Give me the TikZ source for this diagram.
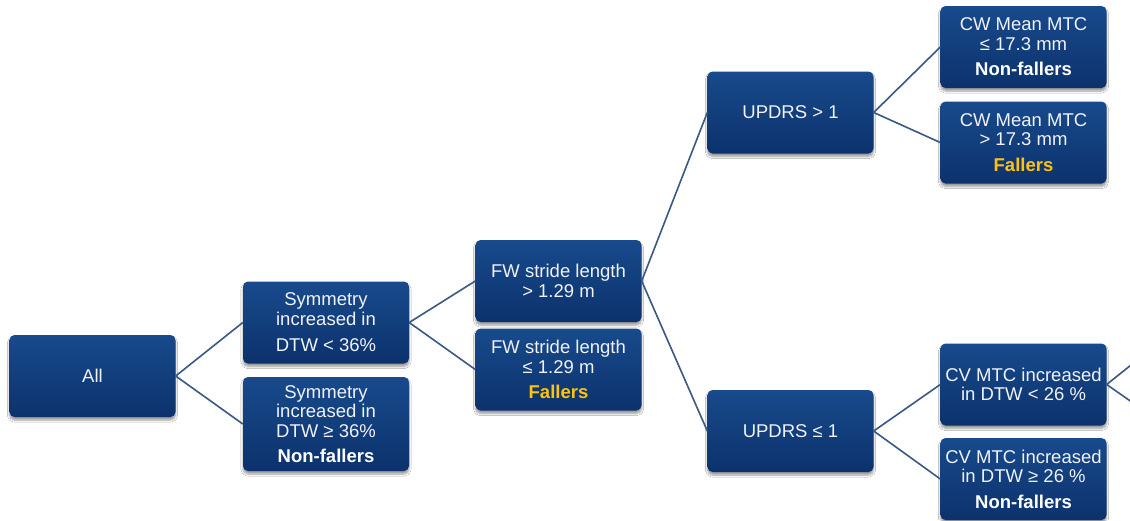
\documentclass[tikz,border=0pt]{standalone}
\usepackage{fontspec}
\setmainfont{Liberation Sans}
\usetikzlibrary{shadows.blur}
\definecolor{boxtop}{RGB}{24,74,140}
\definecolor{boxbot}{RGB}{12,50,108}
\definecolor{linkblue}{RGB}{58,88,132}
\definecolor{fallgold}{RGB}{255,194,14}
\definecolor{txtwhite}{RGB}{240,242,246}
\tikzset{
  box/.style={rectangle, rounded corners=5pt, top color=boxtop, bottom color=boxbot,
    draw=none, text=txtwhite, align=center, inner sep=0pt,
    minimum width=166pt, minimum height=82pt,
    font=\fontsize{18.5}{19.5}\selectfont,
    blur shadow={shadow xshift=0pt, shadow yshift=-3pt, shadow blur steps=6, shadow opacity=40}},
  link/.style={draw=linkblue, line width=1.6pt},
}
\newcommand{\nonfall}{\textbf{\color{white}Non-fallers}}
\newcommand{\fall}{\textbf{\color{fallgold}Fallers}}
\begin{document}
\begin{tikzpicture}[x=1pt,y=-1pt]
\fill[white] (0,0) rectangle (1130,520);
\useasboundingbox (0,0) rectangle (1130,520);
\begin{scope}
\clip (0,0) rectangle (1130,520);
% tree nodes
\node[box] (all) at (92.5,376) {All};
\node[box] (symA) at (326,322.5) {Symmetry\\increased in\\[7pt]DTW < 36\%};
\node[box, minimum height=94pt] (symB) at (326,424) {Symmetry\\increased in\\DTW ≥ 36\%\\[6pt]\nonfall};
\node[box] (fwA) at (558.5,281) {FW stride length\\> 1.29 m};
\node[box] (fwB) at (558.5,369.5) {FW stride length\\≤ 1.29 m\\[6pt]\fall};
\node[box] (upA) at (790.5,112.5) {UPDRS > 1};
\node[box] (upB) at (790.5,431) {UPDRS ≤ 1};
\node[box] (cwA) at (1023.5,47) {CW Mean MTC\\≤ 17.3 mm\\[6pt]\nonfall};
\node[box] (cwB) at (1023.5,142.5) {CW Mean MTC\\> 17.3 mm\\[6pt]\fall};
\node[box] (cvA) at (1023.5,384.5) {CV MTC increased\\in DTW < 26 \%};
\node[box] (cvB) at (1023.5,479) {CV MTC increased\\in DTW ≥ 26 \%\\[6pt]\nonfall};
% branches running past the right edge
\coordinate (outA) at (1136,361);
\coordinate (outB) at (1136,405);
% connectors
\draw[link] (all.east) -- (symA.west);
\draw[link] (all.east) -- (symB.west);
\draw[link] (symA.east) -- (fwA.west);
\draw[link] (symA.east) -- (fwB.west);
\draw[link] (fwA.east) -- (upA.west);
\draw[link] (fwA.east) -- (upB.west);
\draw[link] (upA.east) -- (cwA.west);
\draw[link] (upA.east) -- (cwB.west);
\draw[link] (upB.east) -- (cvA.west);
\draw[link] (upB.east) -- (cvB.west);
\draw[link] (cvA.east) -- (outA);
\draw[link] (cvA.east) -- (outB);
\end{scope}
\end{tikzpicture}
\end{document}
